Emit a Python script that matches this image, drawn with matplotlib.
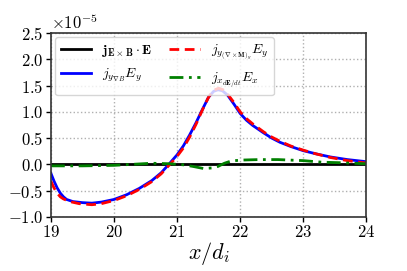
import matplotlib
matplotlib.use("Agg")
import matplotlib.pyplot as plt
import numpy as np

plt.rcParams['font.family'] = 'serif'
plt.rcParams['font.serif'] = ['cmr10', 'DejaVu Serif']
plt.rcParams['mathtext.fontset'] = 'cm'
plt.rcParams['axes.formatter.use_mathtext'] = True
plt.rcParams['axes.unicode_minus'] = True

scale = 1e-5

x_blue = [19.0, 19.05, 19.1, 19.15, 19.2, 19.25, 19.35, 19.5, 19.65, 19.8, 20.0, 20.2, 20.4,
          20.6, 20.75, 20.87, 21.0, 21.1, 21.2, 21.3, 21.4, 21.5, 21.58, 21.65, 21.72, 21.8,
          21.9, 22.0, 22.1, 22.2, 22.37, 22.5, 22.63, 22.8, 23.0, 23.2, 23.43, 23.7, 24.0]
y_blue = [-0.17, -0.32, -0.45, -0.55, -0.62, -0.67, -0.71, -0.73, -0.74, -0.72, -0.67, -0.58, -0.46,
          -0.31, -0.16, 0.0, 0.18, 0.35, 0.56, 0.79, 1.04, 1.28, 1.39, 1.42, 1.40, 1.32,
          1.15, 0.97, 0.84, 0.74, 0.60, 0.50, 0.42, 0.34, 0.26, 0.20, 0.14, 0.09, 0.05]

x_red = [19.0, 19.05, 19.1, 19.15, 19.2, 19.3, 19.45, 19.65, 19.8, 20.0, 20.2, 20.4, 20.6,
         20.75, 20.88, 21.0, 21.1, 21.2, 21.3, 21.4, 21.5, 21.58, 21.66, 21.73, 21.8, 21.9,
         22.0, 22.1, 22.2, 22.37, 22.5, 22.63, 22.8, 23.0, 23.2, 23.43, 23.7, 24.0]
y_red = [-0.32, -0.45, -0.55, -0.62, -0.66, -0.71, -0.75, -0.77, -0.75, -0.69, -0.60, -0.48, -0.33,
         -0.18, -0.01, 0.15, 0.31, 0.52, 0.76, 1.03, 1.28, 1.41, 1.45, 1.42, 1.34, 1.18,
         1.00, 0.87, 0.77, 0.62, 0.52, 0.44, 0.35, 0.27, 0.20, 0.13, 0.07, 0.025]

x_green = [19.0, 19.5, 20.0, 20.3, 20.6, 20.9, 21.1, 21.25, 21.42, 21.55, 21.65, 21.75, 21.85,
           22.0, 22.3, 22.6, 23.0, 23.3, 23.6, 24.0]
y_green = [-0.03, -0.03, -0.02, 0.0, 0.02, 0.01, -0.01, -0.04, -0.08, -0.07, -0.04, 0.02, 0.06,
           0.08, 0.09, 0.09, 0.07, 0.04, 0.03, 0.01]

x_black = [19.0, 24.0]
y_black = [0.0, 0.0]

fig = plt.figure(figsize=(4.07, 2.71), dpi=100)
ax = fig.add_axes([0.125, 0.2, 0.775, 0.678])

ax.plot(x_black, np.array(y_black) * scale, color='black', lw=2,
        label=r'$\mathbf{j}_{\mathbf{E\times B}}\cdot\mathbf{E}$')
ax.plot(x_blue, np.array(y_blue) * scale, color='blue', lw=2,
        label=r'$j_{y_{\nabla B}}E_y$')
ax.plot(x_red, np.array(y_red) * scale, color='red', lw=2, ls=(0, (3.5, 2)),
        label=r'$j_{y_{(\nabla\times\mathbf{M})_y}}E_y$')
ax.plot(x_green, np.array(y_green) * scale, color='green', lw=2, ls=(0, (5, 2, 1, 2)),
        label=r'$j_{x_{d\mathbf{E}/dt}}E_x$')

ax.set_xlim(19, 24)
ax.set_ylim(-1.0e-5, 2.5e-5)
ax.set_xticks([19, 20, 21, 22, 23, 24])
ax.set_yticks(np.arange(-1.0, 2.51, 0.5) * scale)
ax.grid(True, ls=':', color='#b0b0b0', lw=1)
ax.tick_params(labelsize=12, width=1.0, pad=2)
for s in ax.spines.values():
    s.set_linewidth(1.2)
    s.set_color('#333333')
ax.yaxis.get_offset_text().set_fontsize(12)
ax.set_xlabel(r'$x/d_i$', fontsize=16, labelpad=0)

ax.legend(loc='upper left', ncol=2, fontsize=10, borderaxespad=0.3,
          handlelength=2.2, columnspacing=1.2, labelspacing=0.6, framealpha=0.8)

fig.savefig('out.png', dpi=100)
